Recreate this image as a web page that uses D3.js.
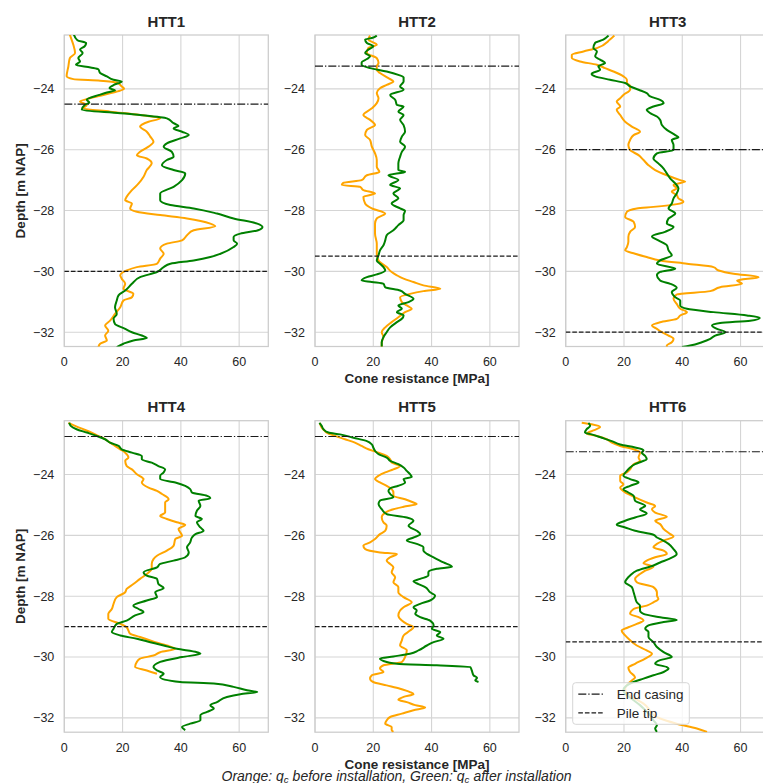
<!DOCTYPE html>
<html>
<head>
<meta charset="utf-8">
<script src="https://cdn.jsdelivr.net/npm/d3@7"></script>
<style>
  html, body { margin: 0; padding: 0; background: #ffffff; }
  svg { display: block; }
</style>
</head>
<body>
<svg id="chart" width="763" height="783"></svg>
<script>
// CPT profiles: [depth (m NAP), cone resistance qc (MPa)]
const htt1Before = [[-22.22,1.9],[-22.38,2.5],[-22.55,3.1],[-22.82,3.7],[-22.99,1.9],[-23.26,1.4],[-23.59,0.8],[-23.68,3.1],[-23.73,12.3],[-23.79,18.0],[-23.92,19.7],[-24.00,20.5],[-24.09,18.0],[-24.20,13.4],[-24.31,8.8],[-24.42,5.4],[-24.53,7.7],[-24.64,6.5],[-24.75,15.7],[-24.86,26.0],[-24.97,32.9],[-25.08,28.9],[-25.24,26.0],[-25.41,28.3],[-25.57,29.5],[-25.74,30.6],[-25.90,28.9],[-26.07,26.0],[-26.18,24.9],[-26.29,28.3],[-26.45,30.0],[-26.67,28.3],[-26.89,27.2],[-27.11,25.5],[-27.33,23.2],[-27.55,21.4],[-27.66,20.9],[-27.77,23.2],[-27.93,22.6],[-28.04,24.9],[-28.15,32.9],[-28.26,42.1],[-28.43,50.1],[-28.52,51.8],[-28.65,44.4],[-28.81,42.1],[-28.98,40.4],[-29.09,35.2],[-29.25,32.9],[-29.42,34.1],[-29.58,32.9],[-29.75,31.8],[-29.86,24.9],[-29.97,21.4],[-30.13,19.2],[-30.24,19.7],[-30.41,20.9],[-30.57,20.3],[-30.74,23.7],[-30.85,23.2],[-30.96,20.3],[-31.18,19.2],[-31.40,17.4],[-31.62,15.7],[-31.78,14.0],[-31.95,15.1],[-32.11,14.0],[-32.27,14.6],[-32.38,12.3],[-32.49,11.7]];
const htt1After = [[-22.22,3.3],[-22.40,4.5],[-22.49,7.5],[-22.60,7.0],[-22.71,5.4],[-22.82,6.3],[-22.99,4.8],[-23.10,5.4],[-23.21,4.0],[-23.30,9.0],[-23.36,11.7],[-23.48,12.3],[-23.59,14.6],[-23.70,16.9],[-23.76,19.7],[-23.87,17.0],[-23.98,15.5],[-24.05,17.4],[-24.12,14.6],[-24.20,12.0],[-24.36,7.7],[-24.45,8.6],[-24.53,7.0],[-24.69,6.0],[-24.80,19.2],[-24.86,26.0],[-24.97,35.2],[-25.13,37.5],[-25.22,39.2],[-25.30,37.5],[-25.41,40.4],[-25.52,42.7],[-25.63,39.8],[-25.79,35.2],[-25.90,34.1],[-26.07,36.9],[-26.23,37.5],[-26.34,35.2],[-26.51,33.5],[-26.67,37.5],[-26.78,41.5],[-27.00,40.4],[-27.22,37.5],[-27.44,32.9],[-27.66,32.9],[-27.82,36.4],[-27.93,44.4],[-28.10,52.4],[-28.26,58.1],[-28.43,66.2],[-28.54,68.0],[-28.65,66.5],[-28.76,60.4],[-28.87,58.1],[-28.98,58.1],[-29.09,59.3],[-29.20,58.1],[-29.42,53.6],[-29.53,50.1],[-29.64,44.4],[-29.75,36.4],[-29.86,34.1],[-30.02,31.8],[-30.19,26.0],[-30.41,23.2],[-30.63,20.9],[-30.79,18.6],[-30.96,18.0],[-31.18,17.4],[-31.40,18.0],[-31.56,16.9],[-31.73,17.4],[-31.89,20.9],[-32.00,23.2],[-32.11,26.6],[-32.19,28.3],[-32.27,23.7],[-32.38,20.3],[-32.49,18.0]];

const htt2Before = [[-22.25,18.9],[-22.38,18.3],[-22.55,21.2],[-22.66,18.3],[-22.82,17.8],[-22.99,21.2],[-23.15,21.8],[-23.26,21.2],[-23.37,21.2],[-23.48,22.3],[-23.65,25.2],[-23.76,26.9],[-23.87,24.6],[-23.98,22.3],[-24.14,21.2],[-24.31,21.8],[-24.47,21.2],[-24.64,19.5],[-24.86,16.6],[-25.02,18.9],[-25.19,20.6],[-25.35,17.8],[-25.52,17.2],[-25.68,18.9],[-25.90,19.5],[-26.12,20.6],[-26.34,21.2],[-26.56,21.2],[-26.73,22.1],[-26.84,17.8],[-27.00,16.0],[-27.09,9.7],[-27.16,9.2],[-27.22,15.5],[-27.33,16.6],[-27.44,20.6],[-27.55,16.6],[-27.77,17.2],[-27.93,19.5],[-28.10,24.1],[-28.26,21.2],[-28.43,20.6],[-28.76,20.6],[-29.09,21.2],[-29.42,21.2],[-29.64,21.8],[-29.86,24.6],[-30.02,26.3],[-30.13,28.1],[-30.24,30.4],[-30.35,33.8],[-30.46,37.2],[-30.57,43.0],[-30.65,37.2],[-30.74,32.6],[-30.85,29.2],[-31.01,29.8],[-31.12,31.5],[-31.23,33.2],[-31.34,30.9],[-31.51,28.6],[-31.67,26.3],[-31.84,24.1],[-32.00,22.9],[-32.16,23.5],[-32.33,22.9],[-32.49,22.9]];
const htt2After = [[-22.25,21.2],[-22.33,19.5],[-22.38,17.2],[-22.49,17.8],[-22.60,20.0],[-22.71,18.3],[-22.82,17.2],[-22.93,18.9],[-23.02,17.8],[-23.13,16.0],[-23.21,16.0],[-23.32,18.9],[-23.43,24.6],[-23.54,28.6],[-23.62,30.4],[-23.76,30.4],[-23.92,29.2],[-24.03,30.4],[-24.20,25.8],[-24.36,27.5],[-24.53,28.1],[-24.58,30.4],[-24.75,28.6],[-24.86,30.4],[-25.02,29.2],[-25.19,30.4],[-25.41,30.9],[-25.57,29.8],[-25.74,29.2],[-25.90,30.9],[-26.07,29.8],[-26.23,29.2],[-26.45,28.6],[-26.67,28.6],[-26.73,30.9],[-26.84,25.2],[-27.00,28.6],[-27.16,25.8],[-27.27,29.2],[-27.44,26.9],[-27.60,28.6],[-27.77,26.3],[-27.93,29.2],[-28.01,30.9],[-28.15,30.4],[-28.32,30.4],[-28.48,28.6],[-28.65,26.9],[-28.81,24.6],[-28.98,24.1],[-29.14,23.5],[-29.31,22.3],[-29.47,21.8],[-29.64,21.2],[-29.75,22.3],[-29.86,23.5],[-29.97,24.1],[-30.10,21.2],[-30.19,17.8],[-30.30,16.0],[-30.35,19.5],[-30.41,23.5],[-30.52,24.1],[-30.63,29.2],[-30.74,30.9],[-30.90,33.8],[-31.01,32.1],[-31.12,28.6],[-31.23,29.8],[-31.34,28.1],[-31.45,30.4],[-31.56,29.8],[-31.67,28.1],[-31.84,25.8],[-32.00,24.6],[-32.16,23.5],[-32.33,22.9],[-32.49,22.9]];

const htt3Before = [[-22.25,16.7],[-22.38,15.2],[-22.66,10.7],[-22.77,6.1],[-22.88,2.1],[-22.99,2.1],[-23.10,4.9],[-23.21,10.7],[-23.32,13.5],[-23.43,16.4],[-23.59,19.8],[-23.70,21.0],[-23.81,21.0],[-23.90,22.1],[-24.03,22.1],[-24.20,19.8],[-24.31,18.7],[-24.42,17.5],[-24.58,18.7],[-24.69,17.5],[-24.86,18.7],[-25.08,20.4],[-25.24,22.7],[-25.41,25.5],[-25.52,23.3],[-25.68,22.1],[-25.85,21.5],[-26.01,22.1],[-26.18,25.0],[-26.34,26.7],[-26.51,28.4],[-26.67,30.7],[-26.84,34.7],[-27.00,39.3],[-27.05,41.0],[-27.16,37.0],[-27.27,38.1],[-27.38,36.4],[-27.49,38.1],[-27.60,38.7],[-27.71,40.4],[-27.79,38.1],[-27.88,30.1],[-27.93,24.4],[-28.04,21.0],[-28.21,20.4],[-28.37,23.3],[-28.54,23.8],[-28.70,22.1],[-28.87,21.5],[-29.03,21.5],[-29.20,21.0],[-29.31,20.4],[-29.42,23.8],[-29.53,27.8],[-29.64,32.4],[-29.75,41.6],[-29.86,50.7],[-29.97,52.5],[-30.08,57.6],[-30.19,66.2],[-30.30,58.8],[-30.41,60.5],[-30.52,53.0],[-30.65,49.6],[-30.76,38.1],[-30.90,37.0],[-31.07,38.1],[-31.23,39.3],[-31.34,41.6],[-31.45,39.3],[-31.56,38.1],[-31.67,32.4],[-31.78,29.6],[-31.89,31.3],[-32.00,33.0],[-32.11,35.3],[-32.22,37.0],[-32.33,36.4],[-32.44,34.7],[-32.49,34.7]];
const htt3After = [[-22.25,14.7],[-22.38,12.9],[-22.49,10.1],[-22.66,9.5],[-22.77,10.7],[-22.93,10.1],[-23.04,11.8],[-23.15,13.5],[-23.26,11.2],[-23.37,11.8],[-23.51,8.9],[-23.59,10.1],[-23.70,15.2],[-23.81,20.4],[-23.92,22.1],[-24.03,25.0],[-24.14,27.8],[-24.25,29.0],[-24.36,32.4],[-24.47,33.6],[-24.58,30.1],[-24.69,27.8],[-24.80,29.0],[-24.91,31.3],[-25.02,32.4],[-25.19,33.0],[-25.35,34.7],[-25.52,37.6],[-25.59,38.7],[-25.68,36.4],[-25.85,37.0],[-26.01,37.0],[-26.12,31.3],[-26.29,30.1],[-26.45,31.8],[-26.62,33.6],[-26.78,34.7],[-26.95,35.9],[-27.11,37.6],[-27.27,38.7],[-27.44,38.1],[-27.60,37.0],[-27.77,36.4],[-27.93,35.3],[-28.10,37.6],[-28.26,35.3],[-28.43,34.7],[-28.54,37.0],[-28.70,34.1],[-28.85,29.6],[-28.98,31.8],[-29.14,34.7],[-29.31,35.3],[-29.47,36.4],[-29.64,32.4],[-29.75,31.3],[-29.91,37.6],[-30.02,32.4],[-30.13,31.3],[-30.30,32.4],[-30.41,35.9],[-30.54,38.1],[-30.68,36.4],[-30.85,37.6],[-30.96,39.3],[-31.12,39.3],[-31.23,41.6],[-31.34,50.7],[-31.45,62.2],[-31.53,66.6],[-31.62,63.3],[-31.70,53.0],[-31.78,50.2],[-31.89,51.9],[-32.00,54.8],[-32.11,51.3],[-32.22,49.6],[-32.33,46.7],[-32.44,42.7],[-32.49,39.9]];

const htt4Before = [[-22.30,1.4],[-22.40,3.7],[-22.51,6.5],[-22.62,9.4],[-22.73,11.7],[-22.84,14.0],[-22.95,15.7],[-23.06,17.4],[-23.17,19.2],[-23.28,20.9],[-23.44,22.0],[-23.55,20.9],[-23.72,21.4],[-23.83,23.2],[-23.99,24.9],[-24.15,27.2],[-24.26,26.6],[-24.43,28.9],[-24.54,31.8],[-24.64,33.5],[-24.81,35.8],[-24.92,34.6],[-25.08,34.6],[-25.25,34.6],[-25.36,32.9],[-25.46,35.2],[-25.57,38.6],[-25.65,41.5],[-25.79,39.2],[-26.01,40.4],[-26.12,38.1],[-26.34,37.5],[-26.50,35.2],[-26.67,31.8],[-26.78,30.6],[-26.94,30.0],[-27.10,30.0],[-27.27,28.3],[-27.43,26.0],[-27.60,23.7],[-27.76,21.4],[-27.87,20.9],[-28.03,18.0],[-28.25,16.9],[-28.42,16.3],[-28.58,15.1],[-28.74,15.1],[-28.91,19.2],[-29.02,21.4],[-29.13,22.0],[-29.23,22.6],[-29.34,26.0],[-29.51,31.2],[-29.62,35.2],[-29.73,38.1],[-29.84,32.9],[-29.95,30.6],[-30.05,26.0],[-30.16,24.9],[-30.33,24.3],[-30.44,28.3],[-30.55,31.8]];
const htt4After = [[-22.30,1.7],[-22.40,2.2],[-22.51,4.2],[-22.62,7.7],[-22.73,11.1],[-22.84,14.0],[-22.95,15.7],[-23.06,18.6],[-23.17,19.7],[-23.28,23.2],[-23.39,26.6],[-23.50,26.6],[-23.61,30.0],[-23.72,32.3],[-23.83,34.6],[-23.93,34.1],[-24.04,32.9],[-24.15,32.9],[-24.26,38.1],[-24.37,41.5],[-24.48,43.2],[-24.59,43.8],[-24.70,49.0],[-24.78,50.1],[-24.86,46.1],[-25.03,46.7],[-25.19,45.5],[-25.36,45.0],[-25.46,47.2],[-25.57,45.5],[-25.74,46.7],[-25.85,47.8],[-25.96,45.0],[-26.07,43.8],[-26.23,43.2],[-26.39,42.1],[-26.56,42.7],[-26.72,41.5],[-26.83,37.5],[-26.94,32.9],[-27.05,31.8],[-27.21,27.2],[-27.32,28.3],[-27.43,31.8],[-27.60,32.3],[-27.73,34.1],[-27.87,31.2],[-28.03,31.8],[-28.14,28.3],[-28.31,23.7],[-28.42,25.5],[-28.52,27.2],[-28.63,24.3],[-28.80,21.4],[-28.91,18.0],[-29.07,16.9],[-29.18,16.3],[-29.29,19.2],[-29.40,24.9],[-29.51,29.5],[-29.62,34.1],[-29.73,38.6],[-29.84,45.5],[-29.89,46.7],[-30.00,40.4],[-30.16,32.9],[-30.33,30.6],[-30.44,31.8],[-30.55,34.1],[-30.66,32.9],[-30.82,39.8],[-30.87,51.3],[-30.98,58.1],[-31.09,62.7],[-31.15,66.2],[-31.22,60.4],[-31.31,55.8],[-31.48,52.4],[-31.58,50.1],[-31.69,51.3],[-31.80,49.0],[-31.91,46.7],[-32.08,46.7],[-32.19,43.2],[-32.30,40.4],[-32.40,41.5]];

const htt5Before = [[-22.30,1.7],[-22.46,2.3],[-22.57,3.4],[-22.62,4.0],[-22.73,6.9],[-22.84,10.3],[-22.95,13.7],[-23.06,16.0],[-23.17,18.3],[-23.28,21.8],[-23.39,24.6],[-23.50,25.8],[-23.61,26.3],[-23.72,29.2],[-23.83,26.9],[-23.93,24.1],[-24.04,21.8],[-24.15,20.6],[-24.26,22.3],[-24.37,24.6],[-24.48,26.3],[-24.59,26.9],[-24.70,26.9],[-24.81,30.9],[-24.92,33.8],[-24.97,34.9],[-25.06,30.4],[-25.14,26.9],[-25.25,24.1],[-25.41,22.9],[-25.57,23.5],[-25.68,24.6],[-25.85,24.1],[-25.96,22.3],[-26.12,20.6],[-26.23,18.9],[-26.34,16.6],[-26.45,17.2],[-26.56,22.3],[-26.61,28.1],[-26.72,25.8],[-26.83,24.6],[-26.94,25.8],[-27.05,26.9],[-27.21,26.3],[-27.38,27.5],[-27.54,26.9],[-27.70,28.6],[-27.87,28.6],[-28.03,30.4],[-28.20,33.2],[-28.36,30.4],[-28.47,29.2],[-28.63,28.6],[-28.80,29.8],[-28.91,31.5],[-29.02,33.8],[-29.13,32.6],[-29.29,30.4],[-29.45,29.8],[-29.62,29.2],[-29.78,31.5],[-30.00,30.9],[-30.16,29.8],[-30.27,23.5],[-30.38,22.3],[-30.49,23.5],[-30.60,19.5],[-30.71,18.9],[-30.82,20.0],[-30.93,24.6],[-31.04,29.2],[-31.15,32.6],[-31.22,33.8],[-31.31,30.4],[-31.40,28.6],[-31.48,31.5],[-31.58,34.4],[-31.66,37.8],[-31.75,33.8],[-31.86,29.8],[-31.97,25.8],[-32.08,24.6],[-32.19,24.1],[-32.30,26.3],[-32.40,26.3],[-32.46,26.9]];
const htt5After = [[-22.30,1.5],[-22.40,2.3],[-22.51,2.9],[-22.62,4.6],[-22.68,8.6],[-22.79,13.2],[-22.90,17.8],[-23.01,19.5],[-23.11,20.0],[-23.22,20.6],[-23.33,21.8],[-23.44,24.6],[-23.55,25.8],[-23.66,28.6],[-23.77,30.4],[-23.88,31.5],[-23.99,32.6],[-24.08,33.2],[-24.15,30.4],[-24.26,30.9],[-24.37,28.6],[-24.45,25.8],[-24.54,25.2],[-24.64,25.8],[-24.75,26.9],[-24.86,22.3],[-24.97,21.8],[-25.14,22.9],[-25.30,24.6],[-25.41,31.5],[-25.52,33.8],[-25.68,32.1],[-25.85,34.9],[-25.96,36.1],[-26.07,33.8],[-26.17,31.5],[-26.28,34.9],[-26.39,37.2],[-26.50,37.2],[-26.61,38.4],[-26.72,40.7],[-26.89,44.1],[-27.03,47.0],[-27.10,41.8],[-27.21,38.9],[-27.32,38.9],[-27.43,36.1],[-27.51,33.8],[-27.60,35.5],[-27.70,37.8],[-27.87,39.5],[-27.98,41.2],[-28.14,39.5],[-28.25,36.1],[-28.36,33.8],[-28.47,34.9],[-28.58,34.4],[-28.69,36.1],[-28.80,39.5],[-28.96,40.7],[-29.07,40.1],[-29.18,43.0],[-29.29,41.8],[-29.40,44.1],[-29.51,40.7],[-29.62,38.4],[-29.78,35.5],[-29.89,32.6],[-29.98,26.9],[-30.05,22.3],[-30.13,23.5],[-30.22,28.1],[-30.27,41.8],[-30.33,53.3],[-30.44,53.8],[-30.60,54.4],[-30.68,55.6],[-30.77,55.0],[-30.82,56.1]];

const htt6Before = [[-22.30,5.5],[-22.35,8.9],[-22.44,11.8],[-22.55,9.5],[-22.66,7.2],[-22.73,10.7],[-22.84,14.1],[-22.95,15.8],[-23.06,18.7],[-23.17,23.3],[-23.28,25.5],[-23.44,25.0],[-23.55,25.5],[-23.66,23.3],[-23.83,22.1],[-23.93,21.0],[-24.04,18.7],[-24.21,18.7],[-24.32,19.8],[-24.43,18.7],[-24.59,20.4],[-24.75,23.8],[-24.92,27.8],[-25.03,30.7],[-25.14,29.6],[-25.25,30.7],[-25.39,34.7],[-25.52,30.7],[-25.63,32.4],[-25.79,33.6],[-25.96,35.9],[-26.04,37.0],[-26.17,33.6],[-26.28,31.3],[-26.39,30.1],[-26.50,33.6],[-26.61,34.7],[-26.72,30.7],[-26.83,27.8],[-26.92,26.7],[-27.03,30.1],[-27.16,27.3],[-27.27,25.5],[-27.43,23.8],[-27.54,24.4],[-27.70,30.1],[-27.87,31.3],[-27.98,31.3],[-28.09,31.8],[-28.20,30.1],[-28.31,27.8],[-28.42,23.3],[-28.58,22.1],[-28.69,25.0],[-28.80,26.7],[-28.91,24.4],[-29.02,21.5],[-29.13,19.2],[-29.29,20.4],[-29.45,22.1],[-29.62,24.4],[-29.78,27.8],[-29.89,29.6],[-30.05,27.3],[-30.22,23.8],[-30.35,21.5],[-30.49,22.1],[-30.66,23.8],[-30.77,22.7],[-30.87,21.5],[-31.04,20.4],[-31.20,21.0],[-31.37,23.8],[-31.53,26.7],[-31.69,28.4],[-31.86,29.6],[-32.02,32.4],[-32.19,38.1],[-32.35,45.0],[-32.46,48.5]];
const htt6After = [[-22.30,7.8],[-22.40,8.4],[-22.51,7.2],[-22.62,6.6],[-22.68,8.9],[-22.79,12.4],[-22.90,15.8],[-23.01,18.7],[-23.11,23.8],[-23.20,26.7],[-23.28,26.1],[-23.39,27.3],[-23.50,27.8],[-23.57,26.1],[-23.66,23.8],[-23.77,22.1],[-23.88,21.0],[-24.04,19.8],[-24.15,22.1],[-24.26,25.0],[-24.37,22.1],[-24.48,19.8],[-24.59,21.5],[-24.70,23.3],[-24.86,23.8],[-25.03,27.3],[-25.14,25.5],[-25.28,27.8],[-25.41,23.8],[-25.52,20.4],[-25.65,17.5],[-25.74,20.4],[-25.85,23.8],[-25.98,30.1],[-26.07,31.3],[-26.15,33.0],[-26.28,35.3],[-26.45,37.0],[-26.61,38.1],[-26.78,35.3],[-26.89,32.4],[-26.99,30.1],[-27.16,24.4],[-27.32,22.1],[-27.43,21.0],[-27.54,20.4],[-27.70,22.7],[-27.87,23.3],[-28.03,23.8],[-28.20,24.4],[-28.31,25.5],[-28.47,25.5],[-28.58,26.7],[-28.69,32.4],[-28.78,38.1],[-28.85,33.6],[-28.96,28.4],[-29.07,27.3],[-29.18,28.4],[-29.34,28.4],[-29.51,30.1],[-29.67,31.3],[-29.84,33.6],[-30.00,36.4],[-30.10,32.4],[-30.22,30.7],[-30.33,34.7],[-30.38,35.3],[-30.49,33.6],[-30.60,30.1],[-30.71,26.7],[-30.82,23.3],[-30.93,21.0],[-31.09,19.8],[-31.26,21.0],[-31.42,23.3],[-31.58,25.5],[-31.75,27.3],[-31.91,29.0],[-32.08,30.1],[-32.24,31.3],[-32.35,30.7],[-32.46,31.3]];

const testNames = ["HTT1", "HTT2", "HTT3", "HTT4", "HTT5", "HTT6"];
const beforeSeries = [htt1Before, htt2Before, htt3Before, htt4Before, htt5Before, htt6Before];
const afterSeries = [htt1After, htt2After, htt3After, htt4After, htt5After, htt6After];
const endCasing = [-24.5, -23.25, -26.0, -22.75, -22.75, -23.25];
const pileTip = [-30.0, -29.5, -32.0, -29.0, -29.0, -29.5];

const xTicks = [0, 20, 40, 60];
const yTicks = [-24, -26, -28, -30, -32];
const xDomain = [0, 70];
const yDomain = [-22.23, -32.47];

const legendLabels = ["End casing", "Pile tip"];
const xAxisLabel = "Cone resistance [MPa]";
const yAxisLabel = "Depth [m NAP]";

// ---- layout ----
const colLeft = [64.3, 315, 565.7];
const rowTop = [35, 420.7];
const panelW = 204;
const panelH = 311.5;
const textColor = "#262626";
const gridColor = "#d5d5d5";
const FONT = "'Liberation Sans', Arial, Helvetica, sans-serif";
const styles = { casing: "8,2,1.3,2", tip: "4.6,2" };

const svg = d3.select("#chart");
svg.append("rect").attr("width", 763).attr("height", 783).attr("fill", "#ffffff");

const x = d3.scaleLinear().domain(xDomain).range([0, panelW]);
const y = d3.scaleLinear().domain(yDomain).range([0, panelH]);
const fmt = d => (d < 0 ? "\u2212" + Math.abs(d) : String(d));

const line = d3.line()
  .x(d => x(d[1]))
  .y(d => y(d[0]))
  .curve(d3.curveMonotoneY);

testNames.forEach((name, i) => {
  const col = i % 3, row = Math.floor(i / 3);
  const g = svg.append("g").attr("transform", `translate(${colLeft[col]},${rowTop[row]})`);

  g.append("defs").append("clipPath").attr("id", "clip" + i)
    .append("rect").attr("width", panelW).attr("height", panelH);

  // grid
  g.selectAll(".gx").data(xTicks).join("line")
    .attr("x1", d => x(d)).attr("x2", d => x(d))
    .attr("y1", 0).attr("y2", panelH)
    .attr("stroke", gridColor).attr("stroke-width", 1.1);
  g.selectAll(".gy").data(yTicks).join("line")
    .attr("x1", 0).attr("x2", panelW)
    .attr("y1", d => y(d)).attr("y2", d => y(d))
    .attr("stroke", gridColor).attr("stroke-width", 1.1);

  // frame
  g.append("rect").attr("width", panelW).attr("height", panelH)
    .attr("fill", "none").attr("stroke", "#cccccc").attr("stroke-width", 1.25);

  const plot = g.append("g").attr("clip-path", `url(#clip${i})`);
  plot.append("path").datum(beforeSeries[i])
    .attr("d", line).attr("fill", "none")
    .attr("stroke", "#FFA500").attr("stroke-width", 2).attr("stroke-linejoin", "round");
  plot.append("path").datum(afterSeries[i])
    .attr("d", line).attr("fill", "none")
    .attr("stroke", "#008000").attr("stroke-width", 2).attr("stroke-linejoin", "round");

  // reference depths
  plot.append("line")
    .attr("x1", 0).attr("x2", panelW)
    .attr("y1", y(endCasing[i])).attr("y2", y(endCasing[i]))
    .attr("stroke", "#1a1a1a").attr("stroke-width", 1.2)
    .attr("stroke-dasharray", styles.casing);
  plot.append("line")
    .attr("x1", 0).attr("x2", panelW)
    .attr("y1", y(pileTip[i])).attr("y2", y(pileTip[i]))
    .attr("stroke", "#1a1a1a").attr("stroke-width", 1.2)
    .attr("stroke-dasharray", styles.tip);

  // tick labels
  g.selectAll(".xt").data(xTicks).join("text")
    .attr("x", d => x(d)).attr("y", panelH + 19.8)
    .attr("text-anchor", "middle")
    .attr("font-family", FONT).attr("font-size", "12.5px").attr("fill", textColor)
    .text(fmt);
  g.selectAll(".yt").data(yTicks).join("text")
    .attr("x", -10).attr("y", d => y(d) + 4.4)
    .attr("text-anchor", "end")
    .attr("font-family", FONT).attr("font-size", "12.5px").attr("fill", textColor)
    .text(fmt);

  // title
  g.append("text")
    .attr("x", panelW / 2).attr("y", -8.3)
    .attr("text-anchor", "middle")
    .attr("font-family", FONT).attr("font-size", "15px").attr("font-weight", "bold")
    .attr("fill", textColor).text(name);

  if (col === 0) {
    g.append("text")
      .attr("transform", `translate(${-39.3},${panelH / 2}) rotate(-90)`)
      .attr("text-anchor", "middle")
      .attr("font-family", FONT).attr("font-size", "13.5px").attr("font-weight", "bold")
      .attr("fill", textColor).text(yAxisLabel);
  }
  if (col === 1) {
    g.append("text")
      .attr("x", panelW / 2).attr("y", panelH + 36.6)
      .attr("text-anchor", "middle")
      .attr("font-family", FONT).attr("font-size", "13.5px").attr("font-weight", "bold")
      .attr("fill", textColor).text(xAxisLabel);
  }

  if (i === 5) {
    const lg = g.append("g").attr("transform", `translate(${572.7 - colLeft[2]},${682.7 - rowTop[1]})`);
    lg.append("rect").attr("width", 116.6).attr("height", 41.6).attr("rx", 3)
      .attr("fill", "#ffffff").attr("fill-opacity", 0.8)
      .attr("stroke", "#d6d6d6").attr("stroke-width", 1);
    [styles.casing, styles.tip].forEach((dash, k) => {
      const cy = 11.5 + k * 18.7;
      lg.append("line").attr("x1", 5.6).attr("x2", 30.6)
        .attr("y1", cy).attr("y2", cy)
        .attr("stroke", "#1a1a1a").attr("stroke-width", 1.2)
        .attr("stroke-dasharray", dash);
      lg.append("text").attr("x", 44).attr("y", cy + 4.8)
        .attr("font-family", FONT).attr("font-size", "13.5px")
        .attr("fill", textColor).text(legendLabels[k]);
    });
  }
});

// caption
const cap = svg.append("text")
  .attr("x", 396.5).attr("y", 780.6)
  .attr("text-anchor", "middle")
  .attr("font-family", FONT).attr("font-size", "14px").attr("font-style", "italic")
  .attr("fill", textColor);
const capParts = [
  ["Orange: ", 0, 14], ["q", 0, 14], ["c", 2, 9.8],
  [" before installation, Green: ", -2, 14], ["q", 0, 14], ["c", 2, 9.8],
  [" after installation", -2, 14]
];
capParts.forEach(([t, dy, fs]) => {
  cap.append("tspan").attr("dy", dy).attr("font-size", fs + "px").text(t);
});
</script>
</body>
</html>
